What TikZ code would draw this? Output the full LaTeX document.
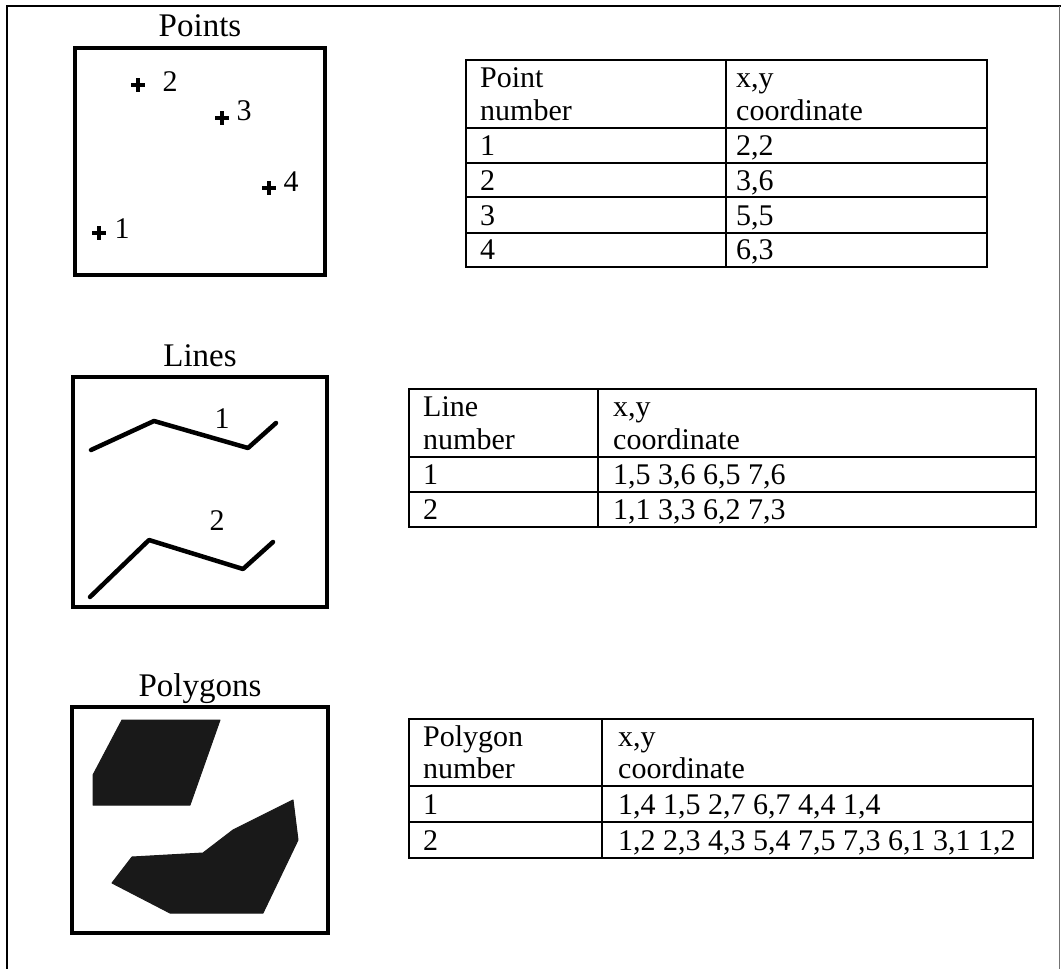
\documentclass[tikz,border=0pt]{standalone}
\usepackage{fontspec}
\setmainfont{Liberation Serif}
\begin{document}
\begin{tikzpicture}[x=1pt,y=-1pt,
  frameline/.style={line width=1.5pt},
  boxline/.style={line width=4pt},
  gridline/.style={line width=1.3pt},
  cell/.style={anchor=base west, inner sep=0pt, font=\fontsize{30}{33}\selectfont},
  ttl/.style={anchor=base, inner sep=0pt, font=\fontsize{33}{36}\selectfont},
  lbl/.style={anchor=base, inner sep=0pt, font=\fontsize{30}{33}\selectfont},
  ptmark/.style={line width=4pt},
  feat/.style={line width=4.5pt, line join=round, line cap=round},
  polyfill/.style={fill=black!90, draw=black!90, line width=1pt, line join=round}]
\useasboundingbox (0,0) rectangle (1061,969);
% outer frame
\draw[frameline] (7,969) -- (7,6) -- (1061,6);
\draw[line width=1pt, black!55] (1059,6) -- (1059,969);

% ---------- Points ----------
\node[ttl] (tpoints) at (200,36) {Points};
\draw[boxline] (75,48) rectangle (325,275);
\coordinate (p1) at (99,233);
\coordinate (p2) at (138,85);
\coordinate (p3) at (222,118);
\coordinate (p4) at (269,188);
\foreach \p in {p1,p2,p3,p4}
  \draw[ptmark] (\p) ++(-7,0) -- ++(14,0) (\p) ++(0,-7) -- ++(0,14);
\node[lbl] (l1) at (122,238) {1};
\node[lbl] (l2) at (170,91) {2};
\node[lbl] (l3) at (244,120) {3};
\node[lbl] (l4) at (291,191) {4};

% table 1
\draw[gridline] (466,60) rectangle (987,267);
\draw[gridline] (726,60) -- (726,267);
\foreach \yy in {128,163,197,233} \draw[gridline] (466,\yy) -- (987,\yy);
\node[cell] (t1a) at (480,87) {Point};
\node[cell] (t1b) at (480,120) {number};
\node[cell] (t1c) at (736,87) {x,y};
\node[cell] (t1d) at (736,120) {coordinate};
\node[cell] (t1r1a) at (480,155) {1};
\node[cell] (t1r1b) at (736,155) {2,2};
\node[cell] (t1r2a) at (480,190) {2};
\node[cell] (t1r2b) at (736,190) {3,6};
\node[cell] (t1r3a) at (480,225) {3};
\node[cell] (t1r3b) at (736,225) {5,5};
\node[cell] (t1r4a) at (480,259) {4};
\node[cell] (t1r4b) at (736,259) {6,3};

% ---------- Lines ----------
\node[ttl] (tlines) at (200,366) {Lines};
\draw[boxline] (73,377) rectangle (327,607);
\draw[feat] (91,450) -- (154,421) -- (248,448) -- (276,423);
\draw[feat] (90,597) -- (149,540) -- (243,569) -- (273,542);
\node[lbl] (ll1) at (222,428) {1};
\node[lbl] (ll2) at (217,530) {2};

% table 2
\draw[gridline] (409,389) rectangle (1036,527);
\draw[gridline] (598,389) -- (598,527);
\foreach \yy in {457,492} \draw[gridline] (409,\yy) -- (1036,\yy);
\node[cell] (t2a) at (423,416) {Line};
\node[cell] (t2b) at (423,449) {number};
\node[cell] (t2c) at (613,416) {x,y};
\node[cell] (t2d) at (613,449) {coordinate};
\node[cell] (t2r1a) at (423,484) {1};
\node[cell] (t2r1b) at (613,484) {1,5 3,6 6,5 7,6};
\node[cell] (t2r2a) at (423,519) {2};
\node[cell] (t2r2b) at (613,519) {1,1 3,3 6,2 7,3};

% ---------- Polygons ----------
\node[ttl] (tpoly) at (200,696) {Polygons};
\draw[boxline] (72,707) rectangle (328,933);
\filldraw[polyfill] (93,805) -- (93,775) -- (122,720) -- (220,720) -- (190,805) -- cycle;
\filldraw[polyfill] (112,883) -- (132,857) -- (203,853) -- (233,830) -- (293,800)
  -- (298,840) -- (263,913) -- (170,913) -- cycle;

% table 3
\draw[gridline] (409,719) rectangle (1033,858);
\draw[gridline] (602,719) -- (602,858);
\foreach \yy in {786,822} \draw[gridline] (409,\yy) -- (1033,\yy);
\node[cell] (t3a) at (423,746) {Polygon};
\node[cell] (t3b) at (423,778) {number};
\node[cell] (t3c) at (618,746) {x,y};
\node[cell] (t3d) at (618,778) {coordinate};
\node[cell] (t3r1a) at (423,814) {1};
\node[cell] (t3r1b) at (618,814) {1,4 1,5 2,7 6,7 4,4 1,4};
\node[cell] (t3r2a) at (423,850) {2};
\node[cell] (t3r2b) at (618,850) {1,2 2,3 4,3 5,4 7,5 7,3 6,1 3,1 1,2};
\end{tikzpicture}
\end{document}
